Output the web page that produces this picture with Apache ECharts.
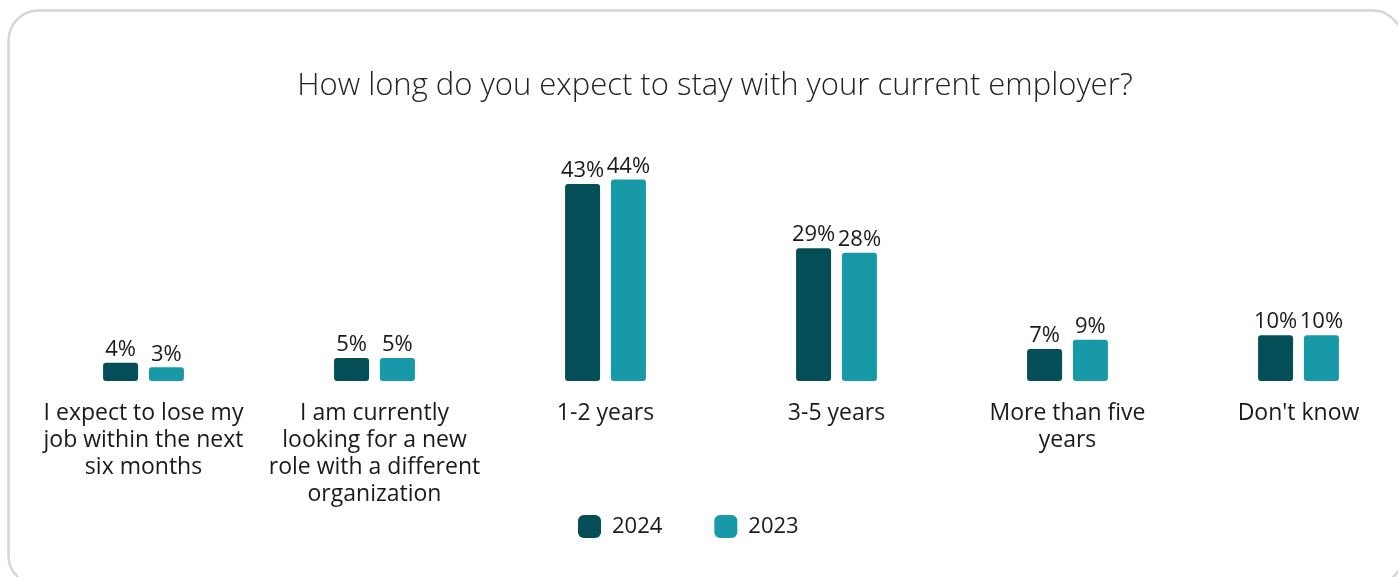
<!DOCTYPE html>
<html>
<head>
<meta charset="utf-8">
<script src="https://cdn.jsdelivr.net/npm/echarts@6/dist/echarts.min.js"></script>
<style>
html,body{margin:0;padding:0;background:#fff;overflow:hidden;width:1398px;height:577px;}
#chart{width:1414px;height:577px;}
</style>
</head>
<body>
<div id="chart"></div>
<script>
const categories = [
  "I expect to lose my\njob within the next\nsix months",
  "I am currently\nlooking for a new\nrole with a different\norganization",
  "1-2 years",
  "3-5 years",
  "More than five\nyears",
  "Don't know"
];
const values2024 = [4, 5, 43, 29, 7, 10];
const values2023 = [3, 5, 44, 28, 9, 10];
const seriesNames = ["2024", "2023"];
const titleText = "How long do you expect to stay with your current employer?";

const chart = echarts.init(document.getElementById('chart'), null, {renderer: 'canvas'});
const font = "'Open Sans', 'Noto Sans', sans-serif";
const labelOpt = {
  show: true, position: 'top', distance: 2,
  formatter: p => p.value + '%',
  color: '#1a1a1a', fontSize: 22, fontFamily: font
};
chart.setOption({
  animation: false,
  graphic: [{
    type: 'rect', left: 6, top: 8, silent: true,
    shape: {x: 0, y: 0, width: 1394, height: 575, r: 30},
    style: {fill: 'none', stroke: '#d6d6d6', lineWidth: 2.5}
  }],
  title: {
    text: titleText, left: 710, top: 66, textAlign: 'center',
    textStyle: {fontFamily: font, fontWeight: 300, fontSize: 31, color: '#222'}
  },
  legend: {
    data: seriesNames, top: 510, left: 573, itemWidth: 23, itemHeight: 23, itemGap: 52,
    icon: 'roundRect',
    textStyle: {fontFamily: font, fontSize: 22, color: '#1a1a1a', padding: [0, 0, 0, 6]}
  },
  grid: {left: 28, right: 0, top: 120, bottom: 196},
  xAxis: {
    type: 'category', data: categories,
    axisLine: {show: false}, axisTick: {show: false},
    axisLabel: {interval: 0, margin: 19, fontFamily: font, fontSize: 23, color: '#1a1a1a', lineHeight: 27}
  },
  yAxis: {type: 'value', min: 0, max: 57, show: false, splitLine: {show: false}},
  series: [
    {name: seriesNames[0], type: 'bar', data: values2024, barWidth: 35, barGap: '31%',
     itemStyle: {color: '#044f57', borderRadius: 3}, label: labelOpt},
    {name: seriesNames[1], type: 'bar', data: values2023, barWidth: 35,
     itemStyle: {color: '#1899a8', borderRadius: 3}, label: labelOpt}
  ]
});
</script>
</body>
</html>
